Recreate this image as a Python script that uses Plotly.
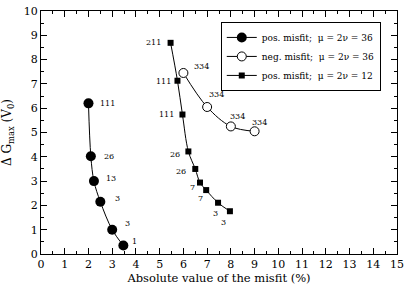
import plotly.graph_objects as go

# ---- data ----
pos36_x = [2.0, 2.1, 2.23, 2.5, 3.0, 3.47]
pos36_y = [6.2, 4.02, 3.0, 2.15, 1.0, 0.35]
pos36_lab = ["111", "26", "13", "3", "3", "1"]

neg36_x = [6.0, 7.0, 8.0, 9.0]
neg36_y = [7.45, 6.05, 5.25, 5.05]
neg36_lab = ["334", "334", "334", "334"]

pos12_x = [5.46, 5.75, 5.96, 6.21, 6.5, 6.7, 6.96, 7.46, 7.96]
pos12_y = [8.69, 7.13, 5.74, 4.22, 3.5, 2.94, 2.63, 2.11, 1.76]
pos12_lab = ["211", "111", "111", "26", "26", "7", "7", "3", "3"]

series_names = ["pos. misfit;  \u03bc = 2\u03bd = 36",
                "neg. misfit;  \u03bc = 2\u03bd = 36",
                "pos. misfit;  \u03bc = 2\u03bd = 12"]

# ---- label placement (style, pixel offsets of label centres) ----
pos36_off = [(19, 0), (18, 0), (17, 3), (17, 3), (15, 6), (11, 4)]
neg36_off = [(18, 6), (9, 12), (7, 10), (5, 9)]
pos12_off = [(-17, 0), (-14, -1), (-16, 0), (-13, -3), (-14, -3), (-8, -5), (-6, -8), (-3, -11), (-6, -11)]

FONT = "DejaVu Serif"
fig = go.Figure()

fig.add_trace(go.Scatter(x=pos36_x, y=pos36_y, mode="lines+markers", name=series_names[0],
                         line=dict(color="black", width=1, shape="spline"),
                         marker=dict(symbol="circle", size=10, color="black")))
fig.add_trace(go.Scatter(x=neg36_x, y=neg36_y, mode="lines+markers", name=series_names[1],
                         line=dict(color="black", width=1, shape="spline"),
                         marker=dict(symbol="circle", size=9, color="white",
                                     line=dict(color="black", width=1))))
fig.add_trace(go.Scatter(x=pos12_x, y=pos12_y, mode="lines+markers", name=series_names[2],
                         line=dict(color="black", width=1, shape="spline"),
                         marker=dict(symbol="square", size=6, color="black")))

anns = []
for xs, ys, labs, offs in [(pos36_x, pos36_y, pos36_lab, pos36_off),
                           (neg36_x, neg36_y, neg36_lab, neg36_off),
                           (pos12_x, pos12_y, pos12_lab, pos12_off)]:
    for x, y, t, (dx, dy) in zip(xs, ys, labs, offs):
        anns.append(dict(x=x, y=y, text=t, showarrow=False, xshift=dx, yshift=dy,
                         xanchor="center", yanchor="middle",
                         font=dict(family=FONT, size=8, color="black")))
fig.update_layout(annotations=anns)

axis_common = dict(showline=True, linecolor="black", linewidth=1, mirror="ticks",
                   ticks="inside", ticklen=6, tickcolor="black", tickwidth=1,
                   showgrid=False, zeroline=False, ticklabeloverflow="allow",
                   tickfont=dict(family=FONT, size=11, color="black"),
                   minor=dict(ticks="inside", ticklen=3, tickcolor="black", dtick=0.5))

fig.update_xaxes(range=[0, 15], dtick=1, tick0=0,
                 title=dict(text="Absolute value of the misfit (%)",
                            font=dict(family=FONT, size=11.5, color="black"), standoff=2),
                 **axis_common)
fig.update_yaxes(range=[0, 10], dtick=1, tick0=0,
                 title=dict(text="\u0394 G<sub>max</sub> (V<sub>0</sub>)",
                            font=dict(family=FONT, size=12, color="black"), standoff=9),
                 **axis_common)

fig.update_layout(width=409, height=286, margin=dict(l=41, r=9, t=5, b=30),
                  paper_bgcolor="white", plot_bgcolor="white", showlegend=True,
                  font=dict(family=FONT, color="black"),
                  legend=dict(x=0.505, y=0.955, xanchor="left", yanchor="top",
                              bgcolor="white", bordercolor="black", borderwidth=1,
                              font=dict(family=FONT, size=9, color="black"),
                              tracegroupgap=0, itemwidth=30))

fig.write_html("out.html", config={"displayModeBar": False},
               post_script="document.body.style.margin='0';")
